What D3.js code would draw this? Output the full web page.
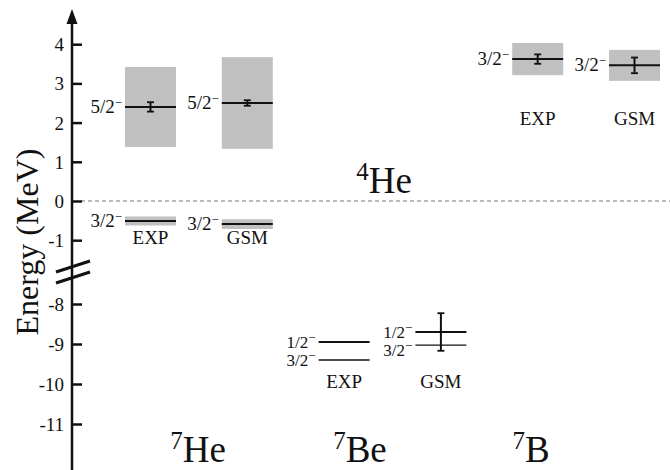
<!DOCTYPE html>
<html>
<head>
<meta charset="utf-8">
<script src="https://cdn.jsdelivr.net/npm/d3@7"></script>
<style>
  body { margin: 0; background: #fff; }
  svg, svg text { font-family: "Liberation Serif", "Times New Roman", Times, "DejaVu Serif", serif !important; fill: #111; }
</style>
</head>
<body>
<div id="chart"></div>
<script>
//////////////////////////////
// DATA
//////////////////////////////

const nuclei = ["7He", "7Be", "7B"]
const columns = ["7He EXP", "7He GSM", "7Be EXP", "7Be GSM", "7B EXP", "7B GSM"]

// one entry per level
const levelCol = ["7He EXP", "7He GSM", "7He EXP", "7He GSM", "7Be EXP", "7Be EXP", "7Be GSM", "7Be GSM", "7B EXP", "7B GSM"]
const levelJ = ["5/2", "5/2", "3/2", "3/2", "1/2", "3/2", "1/2", "3/2", "3/2", "3/2"]
const levelE = [2.40, 2.50, -0.51, -0.59, -8.95, -9.40, -8.70, -9.03, 3.62, 3.46]
const levelWidth = [2.04, 2.34, 0.23, 0.25, 0, 0, 0, 0, 0.82, 0.79]
const levelErr = [0.12, 0.07, 0, 0, 0, 0, 0.47, 0, 0.12, 0.20]

const upperTicks = [4, 3, 2, 1, 0, -1]
const lowerTicks = [-8, -9, -10, -11]

//////////////////////////////
// CHART
//////////////////////////////

const serif = "'Liberation Serif', 'Times New Roman', Times, 'DejaVu Serif', serif"

const drawChart = () => {

	let width = 670
	let height = 470
	let axisX = 72
	let half = 25.5

	let svg = d3.select("#chart").append("svg").attr("width", width).attr("height", height)
		.style("font-family", serif)

	// broken energy axis: upper part -1.6..5, lower part -12.2..-7.4
	let y = d3.scaleLinear().domain([-12.2, -7.4, -1.6, 5]).range([472, 280, 263.7, 5])
	let x = d3.scalePoint().domain(columns).range([150.5, 634.5])

	// threshold line
	svg.append("line")
		.attr("x1", axisX + 9).attr("x2", width)
		.attr("y1", y(0)).attr("y2", y(0))
		.attr("stroke", "#777").attr("stroke-width", 1.2).attr("stroke-dasharray", "4,3")

	// axis
	let axis = d3.axisRight(y).tickValues(upperTicks.concat(lowerTicks)).tickSize(10).tickPadding(0).tickFormat(d3.format("d"))
	let gAxis = svg.append("g").attr("transform", "translate(" + axisX + ",0)").call(axis)
	gAxis.attr("font-family", serif)
	gAxis.select(".domain").remove()
	gAxis.selectAll(".tick line").attr("stroke", "#111").attr("stroke-width", 2.5)
	gAxis.selectAll(".tick text")
		.attr("x", -8).attr("text-anchor", "end").attr("dy", "0.34em")
		.style("font-size", "19px").style("font-family", serif)
		.text((d) => d < 0 ? "-" + Math.abs(d) : d)

	svg.append("line").attr("x1", axisX).attr("x2", axisX).attr("y1", 20).attr("y2", height)
		.attr("stroke", "#111").attr("stroke-width", 2.5)
	svg.append("path").attr("d", "M" + (axisX - 5.5) + ",24 L" + axisX + ",9 L" + (axisX + 5.5) + ",24 Z").attr("fill", "#111")

	// break marks
	let yb = 270
	;[-5, 6].forEach((o) => {
		svg.append("line")
			.attr("x1", axisX - 16).attr("y1", yb + o + 7)
			.attr("x2", axisX + 18).attr("y2", yb + o - 4)
			.attr("stroke", "#111").attr("stroke-width", 3)
	})

	svg.append("text")
		.attr("transform", "translate(38," + 242 + ") rotate(-90)")
		.attr("text-anchor", "middle")
		.style("font-size", "32px")
		.text("Energy (MeV)")

	let levels = levelE.map((e, i) => ({ col: levelCol[i], j: levelJ[i], e: e, w: levelWidth[i], err: levelErr[i] }))

	// widths (grey boxes)
	svg.selectAll("rect.width").data(levels.filter((d) => d.w > 0)).enter().append("rect")
		.attr("class", "width")
		.attr("x", (d) => x(d.col) - half)
		.attr("width", half * 2)
		.attr("y", (d) => y(d.e + d.w / 2))
		.attr("height", (d) => y(d.e - d.w / 2) - y(d.e + d.w / 2))
		.attr("fill", "#c0c0c0")

	// level lines
	svg.selectAll("line.level").data(levels).enter().append("line")
		.attr("class", "level")
		.attr("x1", (d) => x(d.col) - half).attr("x2", (d) => x(d.col) + half)
		.attr("y1", (d) => y(d.e)).attr("y2", (d) => y(d.e))
		.attr("stroke", "#111")
		.attr("stroke-width", (d) => d.col.startsWith("7Be") && d.j == "3/2" ? 1.3 : 2)

	// error bars
	let eg = svg.selectAll("g.err").data(levels.filter((d) => d.err > 0)).enter().append("g").attr("class", "err")
	eg.append("line")
		.attr("x1", (d) => x(d.col)).attr("x2", (d) => x(d.col))
		.attr("y1", (d) => y(d.e + d.err)).attr("y2", (d) => y(d.e - d.err))
		.attr("stroke", "#111").attr("stroke-width", 2)
	;[1, -1].forEach((s) => {
		eg.append("line")
			.attr("x1", (d) => x(d.col) - 3.5).attr("x2", (d) => x(d.col) + 3.5)
			.attr("y1", (d) => y(d.e + s * d.err)).attr("y2", (d) => y(d.e + s * d.err))
			.attr("stroke", "#111").attr("stroke-width", 1.8)
	})

	// spin labels
	let lab = svg.selectAll("text.spin").data(levels).enter().append("text")
		.attr("class", "spin")
		.attr("x", (d) => x(d.col) - half - 3)
		.attr("y", (d) => {
			let dy = 0
			if (d.col == "7Be GSM") dy = d.j == "1/2" ? 0 : 5
			return y(d.e) + 6 + dy
		})
		.attr("text-anchor", "end")
		.style("font-size", (d) => d.col.startsWith("7Be") ? "17px" : "19px")
	lab.append("tspan").text((d) => d.j)
	lab.append("tspan").attr("dy", -6).style("font-size", "13px").text("\u2212")

	// EXP / GSM labels
	let setLabelE = { "7He": -1.1, "7Be": -10.1, "7B": 1.93 }
	columns.forEach((c) => {
		let nuc = c.split(" ")[0]
		svg.append("text")
			.attr("x", x(c)).attr("y", y(setLabelE[nuc]))
			.attr("text-anchor", "middle")
			.style("font-size", "19px")
			.text(c.split(" ")[1])
	})

	// nucleus labels
	let nucX = { "7He": 198, "7Be": 360, "7B": 531 }
	nuclei.forEach((n) => {
		let t = svg.append("text").attr("x", nucX[n]).attr("y", 462).attr("text-anchor", "middle").style("font-size", "37px")
		t.append("tspan").attr("dy", -13).style("font-size", "25px").text(n[0])
		t.append("tspan").attr("dy", 13).text(n.slice(1))
	})

	let he4 = svg.append("text").attr("x", 384).attr("y", 193).attr("text-anchor", "middle").style("font-size", "37px")
	he4.append("tspan").attr("dy", -13).style("font-size", "25px").text("4")
	he4.append("tspan").attr("dy", 13).text("He")
}

//////////////////////////////
// Document Ready
//////////////////////////////

drawChart()
</script>
</body>
</html>
